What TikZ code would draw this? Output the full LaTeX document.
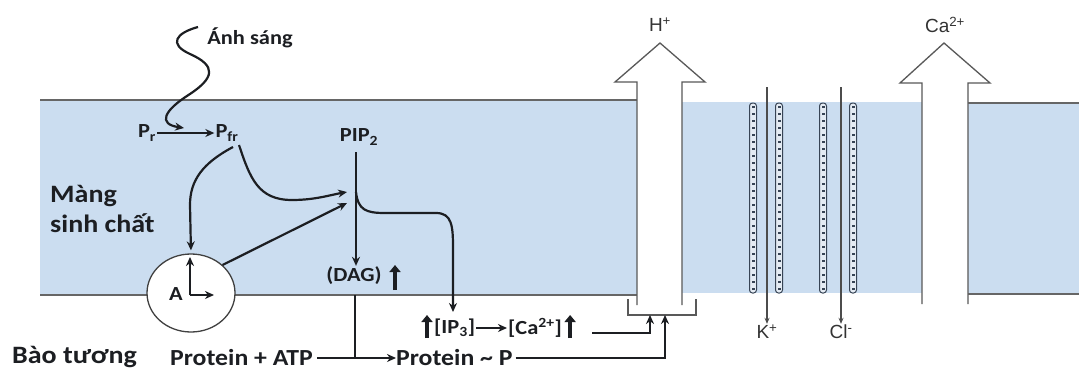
\documentclass[tikz,border=0pt]{standalone}
\usepackage{fontspec}
\setmainfont{Carlito}[FakeStretch=1.12]
\newfontfamily\arialf{Liberation Sans}
\usetikzlibrary{arrows.meta,shapes.geometric}
\definecolor{bandblue}{RGB}{203,221,240}
\definecolor{chanc}{RGB}{55,68,85}
\definecolor{chanfill}{RGB}{228,235,243}
\definecolor{txt}{RGB}{28,30,34}
\begin{document}
\begin{tikzpicture}[x=1pt,y=-1pt,
  band/.style={fill=bandblue},
  mline/.style={draw=black!60, line width=1.3pt},
  conn/.style={draw=txt, line width=2.2pt, -{Stealth[length=9pt,width=8pt]}},
  plain/.style={draw=txt, line width=2.2pt},
  thin/.style={draw=black!70, line width=1.3pt, -{Stealth[length=6pt,width=5pt]}},
  big/.style={font=\bfseries\fontsize{25}{27}\selectfont, text=txt, inner sep=0pt},
  mid/.style={font=\bfseries\fontsize{23}{25}\selectfont, text=txt, inner sep=0pt},
  sm/.style={font=\bfseries\fontsize{20}{22}\selectfont, text=txt, inner sep=1pt},
  ion/.style={font=\arialf\fontsize{19}{21}\selectfont, text=black!80, inner sep=1pt},
  bigarrow/.style={draw=black!65, line width=1.3pt},
  thickup/.style={draw=txt, line width=4pt, -{Triangle[length=7pt,width=11pt]}},
  chan/.style={draw=chanc, fill=chanfill, line width=1pt, rounded corners=3pt},
  chandash/.style={draw=chanc, line width=3pt, dash pattern=on 2pt off 5pt}
]
\useasboundingbox (0,0) rectangle (1079,372);
\fill[white] (0,0) rectangle (1079,372);

% membrane band
\fill[band] (40,100) rectangle (637,295);
\draw[mline] (40,100) -- (637,100);
\draw[mline] (40,295) -- (637,295);
\fill[band] (682,102) rectangle (922,293);
\fill[band] (968,103) rectangle (1079,294);
\draw[mline] (968,103) -- (1079,103);
\draw[mline] (968,294) -- (1079,294);

% H+ pump arrow
\fill[white] (637,305) -- (637,82) -- (615,82) -- (660,43) -- (705,82) -- (682,82) -- (682,305) -- cycle;
\draw[bigarrow] (637,305) -- (637,82) -- (615,82) -- (660,43) -- (705,82) -- (682,82) -- (682,305);
\draw[bigarrow] (628,299) -- (628,315) -- (696,315) -- (696,299);
\coordinate (br1) at (650,315);
\coordinate (br2) at (665,315);

% Ca2+ arrow
\fill[white] (922,304) -- (922,83) -- (900,83) -- (944,43) -- (990,83) -- (968,83) -- (968,304) -- cycle;
\draw[bigarrow] (922,304) -- (922,83) -- (900,83) -- (944,43) -- (990,83) -- (968,83) -- (968,304);

% ion channels
\foreach \cx in {753,779,823,853}{
  \draw[chan] (\cx-3.5,103) rectangle (\cx+3.5,293);
  \draw[chandash] (\cx,106) -- (\cx,291);
}
\node[ion] (hp) at (660,25) {H\textsuperscript{+}};
\node[ion] (cap) at (945,25) {Ca\textsuperscript{2+}};
\node[ion] (kp) at (767,332) {K\textsuperscript{+}};
\node[ion] (clm) at (841,332) {Cl\textsuperscript{-}};
\coordinate (ktop) at (767,87);
\coordinate (cltop) at (841,87);
\draw[thin] (ktop) -- (kp.north);
\draw[thin] (cltop) -- (clm.north);

% texts
\node[sm] (anh) at (250,38) {Ánh sáng};
\node[sm] (pr) at (147,133) {P\textsubscript{r}};
\node[sm] (pfr) at (227,133) {P\textsubscript{fr}};
\node[sm] (pip) at (359,137) {PIP\textsubscript{2}};
\node[sm] (dag) at (354,276) {(DAG)};
\node[big, anchor=west] (mang) at (50,196) {Màng};
\node[big, anchor=west] (sinh) at (50,223) {sinh chất};
\node[big, anchor=west] (bao) at (12,357) {Bào tương};
\node[mid, anchor=west] (patp) at (170,358) {Protein + ATP};
\node[mid, anchor=west] (pp) at (396,358) {Protein \textasciitilde{} P};
\node[sm, anchor=west] (ip3) at (433,328) {[IP\textsubscript{3}]};
\node[sm, anchor=west] (ca) at (507,328) {[Ca\textsuperscript{2+}]};

% light wave
\coordinate (wave0) at (198,27);
\coordinate (lightend) at (184,128);
\draw[conn] (wave0) .. controls (176,33) and (168,44) .. (190,54)
  .. controls (217,66) and (214,78) .. (190,94)
  .. controls (163,111) and (158,124) .. (lightend);

\draw[conn] (pr) -- (pfr);

% A
\node[ellipse, draw=black!75, fill=white, line width=1.3pt, minimum width=88pt, minimum height=78pt] (Acirc) at (191,293) {};
\node[sm] (A) at (176,294) {A};
\coordinate (Ac) at (190,295);
\coordinate (Aup) at (190,257);
\coordinate (Aright) at (214,295);
\draw[conn] (Ac) -- (Aup);
\draw[conn] (Ac) -- (Aright);

% junction
\coordinate (J) at (356,192);
\coordinate (Jin1) at (347,192);
\coordinate (Jin2) at (347,203);
\coordinate (pfrJ) at (239,145);
\coordinate (pfrA) at (233,147);

\draw[conn, shorten <=6pt] (pip.south -| J) -- (dag.north -| J);
\draw[conn] (pfrJ) .. controls (250,178) and (258,200) .. (292,200)
  .. controls (315,200) and (330,195) .. (Jin1);
\draw[conn, shorten >=3pt] (pfrA) .. controls (203,163) and (190,180) .. (190,205) -- (Acirc.north);
\draw[conn] (Acirc.north east) -- (Jin2);

\coordinate (ip3in) at (453,312);
\draw[conn] (J) .. controls (358,210) and (366,213) .. (385,213) -- (436,213)
  .. controls (452,213) and (453,226) .. (453,248) -- (ip3in);

% DAG down to protein line
\coordinate (dagdown) at (355,295);
\draw[plain] (dagdown) -- (dagdown |- pp.west);
\draw[conn] (patp.east) ++(4,0) -- (pp.west);

\draw[conn] (ip3) -- (ca);
\coordinate (castart) at (592,333);
\draw[conn] (castart) -| (br1);
\draw[conn] (pp.east) ++(3,0) -| (br2);

% thick up arrows
\draw[thickup] (395,290) -- (395,265);
\draw[thickup] (427,338) -- (427,315);
\draw[thickup] ([xshift=7pt]ca.east |- 0,338) -- ([xshift=7pt]ca.east |- 0,315);
\end{tikzpicture}
\end{document}
